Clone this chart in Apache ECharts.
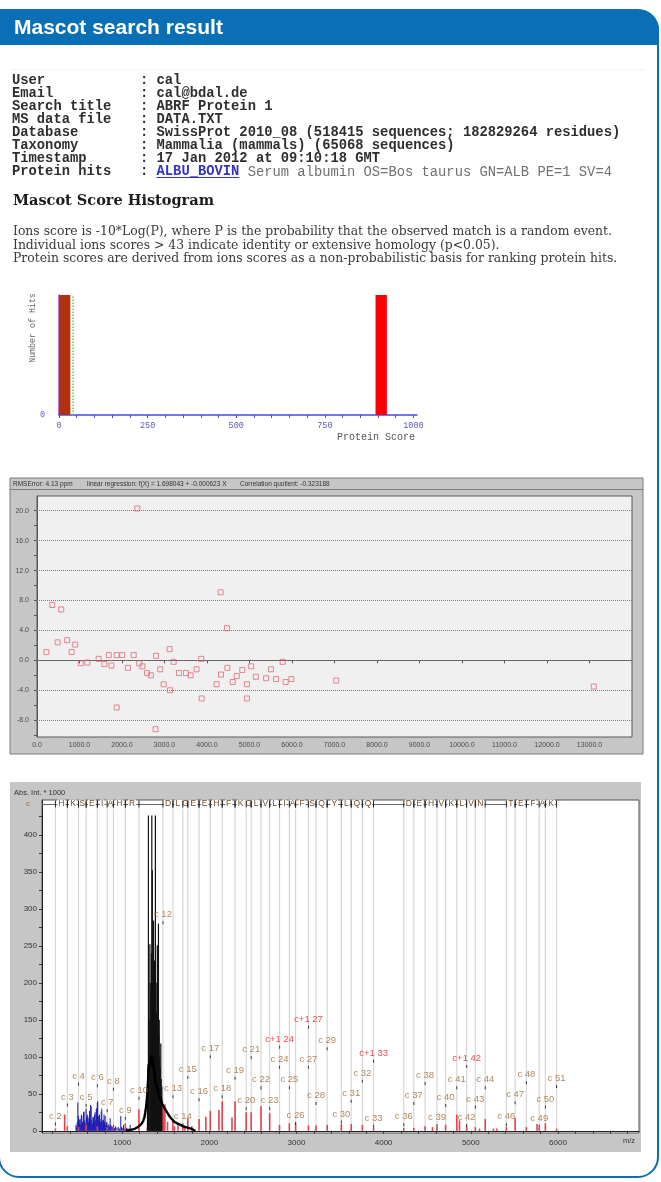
<!DOCTYPE html>
<html>
<head>
<meta charset="utf-8">
<title>Mascot search result</title>
<script src="https://cdn.jsdelivr.net/npm/echarts@6/dist/echarts.min.js"></script>
<style>
  html, body { margin: 0; padding: 0; background: #ffffff; }
  #main { width: 661px; height: 1182px; }
</style>
</head>
<body>
<div id="main"></div>
<script>
// ---- Search summary -------------------------------------------------------
const summaryKeys = ['User', 'Email', 'Search title', 'MS data file', 'Database', 'Taxonomy', 'Timestamp', 'Protein hits'];
const summaryValues = ['cal', 'cal@bdal.de', 'ABRF Protein 1', 'DATA.TXT',
  'SwissProt 2010_08 (518415 sequences; 182829264 residues)',
  'Mammalia (mammals) (65068 sequences)', '17 Jan 2012 at 09:10:18 GMT'];
const proteinHit = 'ALBU_BOVIN';
const proteinDesc = 'Serum albumin OS=Bos taurus GN=ALB PE=1 SV=4';
const histogramTitle = 'Mascot Score Histogram';
const histogramNotes = [
  'Ions score is -10*Log(P), where P is the probability that the observed match is a random event.',
  'Individual ions scores > 43 indicate identity or extensive homology (p<0.05).',
  'Protein scores are derived from ions scores as a non-probabilistic basis for ranking protein hits.'
];

// ---- Protein score histogram ----------------------------------------------
const histBinStart = [0, 893];
const histBinEnd = [32, 925];
const histHits = [1, 1];
const scoreThreshold = 38;
const scoreTickLabels = [0, 250, 500, 750, 1000];

// ---- Mass error (ppm) versus mass -----------------------------------------
const errMass = [220, 360, 485, 570, 710, 815, 900, 1030, 1185, 1450,
  1585, 1690, 1750, 1875, 1875, 2005, 2140, 2275, 2360, 2405,
  2480, 2590, 2680, 2800, 2790, 2900, 2980, 3120, 3130, 3215,
  3340, 3505, 3615, 3755, 3865, 3875, 4225, 4320, 4330, 4470,
  4480, 4605, 4700, 4830, 4940, 4940, 5040, 5150, 5390, 5505,
  5625, 5780, 5850, 5985, 7040, 13100];
const errPpm = [1.1, 7.4, 2.4, 6.8, 2.7, 1.1, 2.1, -0.4, -0.3, 0.2,
  -0.5, 0.7, -0.7, 0.7, -6.3, 0.7, -1.0, 0.7, 20.3, -0.4,
  -0.8, -1.7, -2.0, 0.6, -9.2, -1.2, -3.2, 1.5, -4.0, -0.2,
  -1.7, -1.7, -2.0, -1.2, 0.2, -5.1, -3.2, 9.1, -1.9, 4.3,
  -1.0, -2.9, -2.1, -1.3, -3.2, -5.1, -0.8, -2.2, -2.4, -1.2,
  -2.5, -0.2, -2.9, -2.5, -2.7, -3.5];
const errTickLabels = [-8, -4, 0, 4, 8, 12, 16, 20];
const errMinorTicks = [-10, -8, -6, -4, -2, 0, 2, 4, 6, 8, 10, 12, 14, 16, 18, 20];
const errHeader = ['RMSError: 4.13 ppm', 'linear regression: f(X) = 1.698043 + -0.000623 X', 'Correlation quotient: -0.323188'];

// ---- ISD spectrum with c-ion ladder ---------------------------------------
const residues = 'DTHKSEIAHRFKDLGEEHFKGLVLIAFSQYLQQCPFDEHVKLVNELTEFAK';
const cIonNo = [2, 3, 4, 5, 6, 7, 8, 9, 10, 12, 13, 14, 15, 16, 17, 18, 19, 20, 21, 22,
  23, 24, 25, 26, 27, 28, 29, 30, 31, 32, 33, 36, 37, 38, 39, 40, 41, 42, 43, 44,
  46, 47, 48, 49, 50, 51];
const cIonMz = [234.1, 371.2, 499.3, 586.3, 715.3, 828.4, 899.5, 1036.5, 1192.6, 1467.8,
  1582.8, 1695.9, 1752.9, 1882.0, 2011.0, 2148.1, 2295.1, 2423.2, 2480.2, 2593.3,
  2692.4, 2805.5, 2918.6, 2989.6, 3136.7, 3223.7, 3351.8, 3514.8, 3627.9, 3756.0,
  3884.0, 4231.2, 4346.2, 4475.2, 4612.3, 4711.4, 4839.5, 4952.5, 5051.6, 5165.6,
  5407.8, 5508.8, 5637.9, 5784.9, 5856.0, 5984.1];
const cLabelAt = [9, 35, 63, 34, 61, 27, 56, 17, 44, 281,
  46, 8, 72, 42, 100, 46, 71, 30, 99, 58,
  30, 86, 58, 10, 86, 37, 111, 12, 40, 67,
  6, 8, 37, 64, 7, 34, 58, 7, 32, 58,
  8, 38, 65, 6, 32, 60];
const cPlusNo = [24, 27, 33, 42];
const cPlusMz = [2806.5, 3137.7, 3885.0, 4953.5];
const cPlusLabelAt = [113, 140, 94, 87];

const profileMz = [1040, 1080, 1120, 1150, 1180, 1200, 1220, 1240, 1255, 1265, 1275, 1285, 1292, 1298,
  1303, 1308, 1313, 1318, 1323, 1328, 1333, 1338, 1343, 1348, 1353, 1358, 1363, 1368, 1373,
  1378, 1384, 1390, 1396, 1402, 1410, 1418, 1426, 1434, 1442, 1452, 1462, 1474, 1486, 1500,
  1515, 1530, 1545, 1560, 1580, 1600, 1620, 1645, 1670, 1700, 1730, 1760, 1790, 1820, 1840];
const profileInt = [0, 1, 2, 3, 5, 6, 9, 13, 18, 25, 33, 45, 58, 72,
  85, 80, 92, 88, 99, 94, 102, 96, 100, 90, 95, 84, 88, 76, 80,
  68, 70, 60, 63, 54, 57, 48, 50, 43, 46, 38, 40, 33, 34, 28,
  27, 22, 21, 17, 15, 12, 11, 9, 8, 6, 5, 4, 3, 1, 0];

const blackMz = [1290, 1295, 1301, 1310, 1318, 1322, 1330, 1335, 1340, 1346, 1352, 1355, 1360, 1365,
  1370, 1375, 1381, 1386, 1392, 1398, 1403, 1410, 1416, 1420, 1425, 1430, 1437, 1443, 1448, 1455];
const blackInt = [60, 90, 426, 150, 252, 200, 180, 240, 426, 352, 200, 170, 284, 210,
  230, 190, 426, 140, 160, 200, 250, 251, 280, 130, 150, 100, 85, 118, 70, 60];

const blueMz = [470, 478, 484, 491, 498, 505, 512, 518, 525, 531, 537, 543, 550, 556, 563, 570, 577, 586,
  592, 599, 605, 612, 618, 625, 631, 638, 644, 650, 657, 664, 671, 677, 684, 690, 697, 703,
  709, 715, 720, 727, 734, 740, 746, 753, 760, 766, 772, 779, 785, 792, 798, 805, 812, 818,
  824, 831, 838, 846, 853, 862, 870, 880, 890, 900, 912, 925, 940, 955, 970, 984, 992, 1000,
  1015, 1030, 1048, 1060, 1075, 1091, 1100, 1110];
const blueInt = [8, 5, 12, 38, 20, 10, 15, 16, 9, 22, 20, 12, 8, 25, 26, 14, 10, 30,
  18, 22, 20, 12, 17, 27, 14, 35, 33, 15, 10, 19, 18, 12, 22, 25, 14, 29,
  31, 38, 40, 20, 12, 22, 16, 12, 26, 30, 14, 10, 15, 22, 12, 20, 8, 10,
  12, 7, 6, 9, 6, 17, 8, 6, 5, 8, 4, 6, 4, 5, 3, 20, 5, 4,
  8, 3, 4, 3, 2, 8, 3, 2];

const redMz = [234, 340, 371, 499, 586, 715, 828, 899, 1036, 1192, 1290, 1440, 1460, 1475, 1490, 1520,
  1582, 1600, 1640, 1696, 1720, 1753, 1800, 1882, 1960, 2011, 2110, 2148, 2260, 2295, 2423,
  2480, 2593, 2692, 2805, 2918, 2990, 3137, 3224, 3352, 3515, 3628, 3756, 3884, 4231, 4346,
  4475, 4560, 4612, 4711, 4839, 4870, 4953, 5052, 5100, 5166, 5260, 5300, 5408, 5509, 5638,
  5760, 5785, 5856, 5984];
const redInt = [3, 22, 6, 5, 8, 6, 5, 6, 10, 29, 4, 10, 40, 30, 36, 12,
  14, 6, 7, 8, 5, 17, 6, 16, 19, 27, 28, 40, 18, 40, 25,
  25, 33, 24, 8, 10, 10, 7, 7, 8, 9, 9, 8, 4, 4, 4,
  6, 5, 5, 8, 22, 14, 6, 5, 3, 16, 3, 3, 5, 17, 5,
  9, 4, 10, 3];

const mzTickLabels = [1000, 2000, 3000, 4000, 5000, 6000];
const intTickLabels = [0, 50, 100, 150, 200, 250, 300, 350, 400];

// ---- helpers --------------------------------------------------------------
const zip = (a, b) => a.map((v, i) => [v, b[i]]);
const range = (from, to, step) => { const out = []; for (let v = from; v <= to; v += step) out.push(v); return out; };

const SANS = 'Liberation Sans';
const MONO = 'Liberation Mono';
const SERIF = 'DejaVu Serif';
const BLUE = '#0b6fb5';
const ION_BROWN = '#9c6b35';
const ION_RED = '#e0202a';
const ROW_LEVEL = 441.5;

function stickRenderer(color, width) {
  return function (params, api) {
    const base = api.coord([api.value(0), 0]);
    const top = api.coord([api.value(0), api.value(1)]);
    return {
      type: 'line',
      shape: { x1: base[0], y1: base[1], x2: top[0], y2: top[1] },
      style: { stroke: color, lineWidth: width }
    };
  };
}

// residue spans between neighbouring observed c ions
const seqSpans = [];
for (let i = 1; i < cIonNo.length; i++) {
  if (cIonNo[i] - cIonNo[i - 1] === 1) {
    seqSpans.push([cIonMz[i - 1], cIonMz[i], residues[cIonNo[i] - 1]]);
  }
}

// ---- page decoration and text ---------------------------------------------
const graphics = [];
graphics.push({ type: 'rect', z: -20, shape: { x: -1, y: 10, width: 659, height: 1167, r: [0, 20, 20, 20] },
  style: { fill: '#ffffff', stroke: BLUE, lineWidth: 2 } });
graphics.push({ type: 'rect', z: -19, shape: { x: 0, y: 10, width: 659, height: 35, r: [0, 20, 0, 0] },
  style: { fill: BLUE } });
graphics.push({ type: 'text', z: 50, x: 14, y: 28,
  style: { text: 'Mascot search result', fill: '#ffffff', fontFamily: SANS, fontWeight: 'bold', fontSize: 21, verticalAlign: 'middle' } });

graphics.push({ type: 'line', z: -18, shape: { x1: 12, y1: 70, x2: 645, y2: 70 }, style: { stroke: '#f0f0f0', lineWidth: 1 } });
const summaryFont = { fill: '#2e2e2e', fontFamily: MONO, fontWeight: 'bold', fontSize: 13.8, verticalAlign: 'middle' };
summaryKeys.forEach((k, i) => {
  const y = 81 + 13 * i;
  graphics.push({ type: 'text', z: 50, x: 12, y, style: Object.assign({ text: k }, summaryFont) });
  if (i < summaryValues.length) {
    graphics.push({ type: 'text', z: 50, x: 140, y, style: Object.assign({ text: ': ' + summaryValues[i] }, summaryFont) });
  }
});
const hitY = 81 + 13 * 7;
const charW = 13.8 * 0.6;
graphics.push({ type: 'text', z: 50, x: 140, y: hitY, style: Object.assign({ text: ':' }, summaryFont) });
graphics.push({ type: 'text', z: 50, x: 140 + 2 * charW, y: hitY,
  style: Object.assign({}, summaryFont, { text: proteinHit, fill: '#3434c4' }) });
graphics.push({ type: 'line', z: 50, shape: { x1: 140 + 2 * charW, y1: hitY + 5.5, x2: 140 + 12 * charW, y2: hitY + 5.5 },
  style: { stroke: '#3434c4', lineWidth: 1 } });
graphics.push({ type: 'text', z: 50, x: 140 + 13 * charW, y: hitY,
  style: Object.assign({}, summaryFont, { text: proteinDesc, fill: '#707070', fontWeight: 'normal' }) });

graphics.push({ type: 'text', z: 50, x: 13, y: 201,
  style: { text: histogramTitle, fill: '#1c1c1c', fontFamily: SERIF, fontWeight: 'bold', fontSize: 14.5, verticalAlign: 'middle' } });
histogramNotes.forEach((t, i) => {
  graphics.push({ type: 'text', z: 50, x: 13, y: 232 + 13.3 * i,
    style: { text: t, fill: '#3a3a3a', fontFamily: SERIF, fontSize: 12.4, verticalAlign: 'middle' } });
});
graphics.push({ type: 'text', z: 50, x: 33, y: 328, rotation: Math.PI / 2,
  style: { text: 'Number of Hits', fill: '#666666', fontFamily: MONO, fontSize: 8.3, align: 'center', verticalAlign: 'middle' } });
graphics.push({ type: 'text', z: 50, x: 415, y: 437,
  style: { text: 'Protein Score', fill: '#555555', fontFamily: MONO, fontSize: 10, align: 'right', verticalAlign: 'middle' } });

// mass error panel frame
graphics.push({ type: 'rect', z: -15, shape: { x: 10, y: 478, width: 633, height: 276 },
  style: { fill: '#c6c6c6', stroke: '#7c7c7c', lineWidth: 1 } });
graphics.push({ type: 'line', z: -14, shape: { x1: 10, y1: 489.5, x2: 643, y2: 489.5 }, style: { stroke: '#7c7c7c', lineWidth: 1 } });
[[13, 0], [87, 1], [240, 2]].forEach(([x, i]) => {
  graphics.push({ type: 'text', z: 50, x, y: 484,
    style: { text: errHeader[i], fill: '#333333', fontFamily: SANS, fontSize: 6.5, verticalAlign: 'middle' } });
});

// spectrum panel frame
graphics.push({ type: 'rect', z: -15, shape: { x: 10, y: 782, width: 631, height: 370 },
  style: { fill: '#c6c6c6' } });
graphics.push({ type: 'text', z: 50, x: 14, y: 793,
  style: { text: 'Abs. Int. * 1000', fill: '#333333', fontFamily: SANS, fontSize: 7.5, verticalAlign: 'middle' } });
graphics.push({ type: 'text', z: 50, x: 26, y: 804,
  style: { text: 'c', fill: ION_BROWN, fontFamily: SANS, fontSize: 8, verticalAlign: 'middle' } });
graphics.push({ type: 'text', z: 50, x: 623, y: 1141,
  style: { text: 'm/z', fill: '#333333', fontFamily: SANS, fontSize: 7.5, verticalAlign: 'middle' } });

// ---- chart ------------------------------------------------------------------
const chart = echarts.init(document.getElementById('main'), null, { renderer: 'canvas', width: 661, height: 1182 });

const option = {
  animation: false,
  backgroundColor: '#ffffff',
  graphic: { elements: graphics },
  grid: [
    { left: 59, top: 295, width: 358, height: 120 },
    { left: 37, top: 496, width: 595, height: 241, show: true, backgroundColor: '#f0f0f0', borderColor: '#5a5a5a', borderWidth: 1 },
    { left: 42, top: 800, width: 597, height: 333, show: true, backgroundColor: '#ffffff', borderColor: '#555555', borderWidth: 1 }
  ],
  xAxis: [
    {
      type: 'value', gridIndex: 0, min: 0, max: 1010,
      axisLine: { lineStyle: { color: '#4a4ae0', width: 1.5 } },
      axisTick: { customValues: range(0, 1000, 50), length: 3, lineStyle: { color: '#4a4ae0' } },
      axisLabel: { customValues: scoreTickLabels, formatter: v => String(v), color: '#5a5ac8', fontFamily: MONO, fontSize: 8.5, margin: 6 },
      splitLine: { show: false }
    },
    {
      type: 'value', gridIndex: 1, min: 0, max: 14000, interval: 1000,
      axisLine: { lineStyle: { color: '#555555' } },
      axisTick: { length: 3, lineStyle: { color: '#555555' } },
      axisLabel: { showMaxLabel: false, formatter: v => v.toFixed(1), color: '#4a4a4a', fontFamily: SANS, fontSize: 7, margin: 5 },
      splitLine: { show: false }
    },
    {
      type: 'value', gridIndex: 2, min: 80, max: 6930,
      axisLine: { lineStyle: { color: '#222222' } },
      axisTick: { customValues: range(200, 6800, 200), length: 3, lineStyle: { color: '#333333' } },
      axisLabel: { customValues: mzTickLabels, formatter: v => String(v), color: '#333333', fontFamily: SANS, fontSize: 8, margin: 6 },
      splitLine: { show: false }
    }
  ],
  yAxis: [
    {
      type: 'value', gridIndex: 0, min: 0, max: 1,
      axisLine: { show: true, lineStyle: { color: '#b040c8', width: 1.5 } },
      axisTick: { show: false },
      axisLabel: { customValues: [0], color: '#5a5ac8', fontFamily: MONO, fontSize: 8.5, margin: 14 },
      splitLine: { show: false }
    },
    {
      type: 'value', gridIndex: 1, min: -10.25, max: 21.97,
      axisLine: { show: true, lineStyle: { color: '#555555' } },
      axisTick: { show: true, customValues: errMinorTicks, length: 3, lineStyle: { color: '#555555' } },
      axisLabel: { customValues: errTickLabels, formatter: v => v.toFixed(1), color: '#4a4a4a', fontFamily: SANS, fontSize: 7, margin: 8 },
      splitLine: { show: false }
    },
    {
      type: 'value', gridIndex: 2, min: -3, max: 447,
      axisLine: { show: true, lineStyle: { color: '#222222' } },
      axisTick: { show: true, customValues: range(0, 425, 25), length: 3, lineStyle: { color: '#333333' } },
      axisLabel: { customValues: intTickLabels, formatter: v => String(v), color: '#333333', fontFamily: SANS, fontSize: 8, margin: 5 },
      splitLine: { show: false }
    }
  ],
  series: [
    // score histogram bins
    {
      type: 'custom', xAxisIndex: 0, yAxisIndex: 0, z: 3,
      data: histBinStart.map((s, i) => [s, histBinEnd[i], histHits[i]]),
      encode: { x: [0, 1], y: 2 },
      renderItem(params, api) {
        const p0 = api.coord([api.value(0), api.value(2)]);
        const p1 = api.coord([api.value(1), 0]);
        const above = api.value(0) > scoreThreshold;
        return {
          type: 'rect',
          shape: { x: p0[0], y: p0[1], width: p1[0] - p0[0], height: p1[1] - p0[1] },
          style: { fill: above ? '#ff0000' : '#b0320c' }
        };
      },
      markLine: {
        silent: true, symbol: 'none', label: { show: false },
        lineStyle: { color: '#5ccc5c', type: 'dotted', width: 1.5 },
        data: [{ xAxis: scoreThreshold }]
      }
    },
    // mass error points
    {
      type: 'scatter', xAxisIndex: 1, yAxisIndex: 1, z: 4,
      data: zip(errMass, errPpm),
      symbol: 'rect', symbolSize: 5,
      itemStyle: { color: 'rgba(255,255,255,0)', borderColor: '#e46a78', borderWidth: 1 },
      markLine: {
        silent: true, symbol: 'none', label: { show: false },
        lineStyle: { color: '#7a7a7a', type: 'dotted', width: 1 },
        data: errTickLabels.map(v => ({ yAxis: v }))
      }
    },
    // c-ion guide lines and sequence row line
    {
      type: 'custom', xAxisIndex: 2, yAxisIndex: 2, z: 1, clip: true,
      data: cIonMz.map(v => [v, ROW_LEVEL]),
      encode: { x: 0, y: 1 },
      renderItem(params, api) {
        const base = api.coord([api.value(0), 0]);
        const top = api.coord([api.value(0), ROW_LEVEL]);
        return {
          type: 'line',
          shape: { x1: base[0], y1: base[1], x2: top[0], y2: top[1] + 4 },
          style: { stroke: '#d6d6d6', lineWidth: 1.2 }
        };
      },
      markLine: {
        silent: true, symbol: 'none', label: { show: false },
        lineStyle: { color: '#666666', type: 'solid', width: 1 },
        data: [[{ coord: [80, ROW_LEVEL] }, { coord: [cIonMz[cIonMz.length - 1], ROW_LEVEL] }]]
      }
    },
    // unassigned low-mass peaks
    {
      type: 'custom', xAxisIndex: 2, yAxisIndex: 2, z: 3, clip: true,
      data: zip(blueMz, blueInt), encode: { x: 0, y: 1 },
      renderItem: stickRenderer('#1a1ab4', 1)
    },
    // assigned peaks
    {
      type: 'custom', xAxisIndex: 2, yAxisIndex: 2, z: 3, clip: true,
      data: zip(redMz, redInt), encode: { x: 0, y: 1 },
      renderItem: stickRenderer('#e8414e', 1.6)
    },
    // matrix/precursor region profile
    {
      type: 'line', xAxisIndex: 2, yAxisIndex: 2, z: 4,
      data: zip(profileMz, profileInt),
      symbol: 'none', lineStyle: { color: '#000000', width: 2.4 }
    },
    {
      type: 'custom', xAxisIndex: 2, yAxisIndex: 2, z: 4, clip: true,
      data: zip(blackMz, blackInt), encode: { x: 0, y: 1 },
      renderItem: stickRenderer('#111111', 1.2)
    },
    // sequence ladder row
    {
      type: 'custom', xAxisIndex: 2, yAxisIndex: 2, z: 6, clip: false,
      data: seqSpans.map(s => [s[0], s[1]]), encode: { x: [0, 1] },
      renderItem(params, api) {
        const a = api.coord([api.value(0), ROW_LEVEL]);
        const b = api.coord([api.value(1), ROW_LEVEL]);
        return {
          type: 'group',
          children: [
            { type: 'text', x: (a[0] + b[0]) / 2, y: a[1],
              style: { text: seqSpans[params.dataIndex][2], fill: '#6e4a26', fontFamily: SANS, fontSize: 8.5,
                align: 'center', verticalAlign: 'middle', backgroundColor: '#ffffff', padding: [0, 1] } },
            { type: 'line', shape: { x1: a[0], y1: a[1] - 3.5, x2: a[0], y2: a[1] + 3.5 }, style: { stroke: '#222222', lineWidth: 1 } },
            { type: 'line', shape: { x1: b[0], y1: b[1] - 3.5, x2: b[0], y2: b[1] + 3.5 }, style: { stroke: '#222222', lineWidth: 1 } }
          ]
        };
      }
    },
    // c-ion annotations
    {
      type: 'scatter', xAxisIndex: 2, yAxisIndex: 2, z: 7,
      data: cIonMz.map((v, i) => ({ value: [v, cLabelAt[i]], name: 'c ' + cIonNo[i] })),
      symbol: 'rect', symbolSize: [1, 3],
      itemStyle: { color: '#111111' },
      label: { show: true, position: 'top', distance: 1.5, formatter: p => p.name,
        color: ION_BROWN, fontFamily: SANS, fontSize: 9.5 }
    },
    {
      type: 'scatter', xAxisIndex: 2, yAxisIndex: 2, z: 7,
      data: cPlusMz.map((v, i) => ({ value: [v, cPlusLabelAt[i]], name: 'c+1 ' + cPlusNo[i] })),
      symbol: 'rect', symbolSize: [1, 3],
      itemStyle: { color: '#111111' },
      label: { show: true, position: 'top', distance: 1.5, formatter: p => p.name,
        color: ION_RED, fontFamily: SANS, fontSize: 9.5 }
    }
  ]
};

chart.setOption(option);
</script>
</body>
</html>
